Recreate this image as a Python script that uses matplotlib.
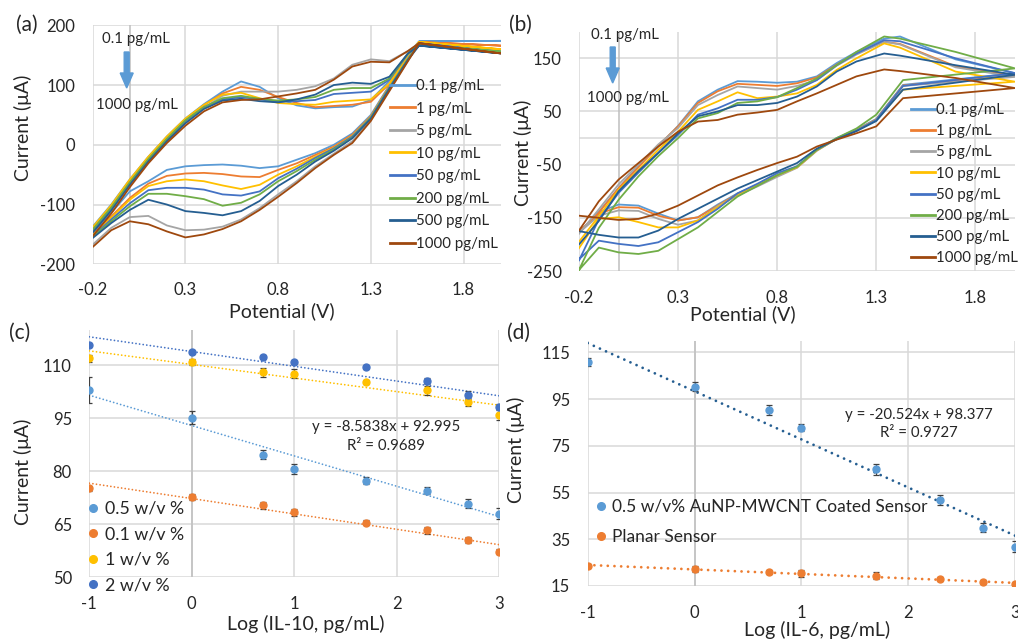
import matplotlib
matplotlib.use('Agg')
import matplotlib.pyplot as plt
from matplotlib.lines import Line2D
from matplotlib.patches import FancyArrow
import numpy as np

plt.rcParams['font.family'] = ['Lato', 'DejaVu Sans']
plt.rcParams['axes.unicode_minus'] = False

# ---------------- data ----------------
CONC_LABELS = ['0.1 pg/mL', '1 pg/mL', '5 pg/mL', '10 pg/mL',
               '50 pg/mL', '200 pg/mL', '500 pg/mL', '1000 pg/mL']
CV_COLORS = ['#5B9BD5', '#ED7D31', '#A5A5A5', '#FFC000',
             '#4472C4', '#70AD47', '#255E91', '#9E480E']

# Panel (a): forward (upper) and reverse (lower) potential grids, V
A_V_FWD = [-0.2, -0.1, 0.0, 0.1, 0.2, 0.3, 0.4, 0.5, 0.6, 0.7, 0.8, 0.9, 1.0,
           1.1, 1.2, 1.3, 1.4, 1.5, 1.56, 2.0]
A_V_REV = [2.0, 1.56, 1.5, 1.4, 1.3, 1.2, 1.1, 1.0, 0.9, 0.8, 0.7, 0.6, 0.5,
           0.4, 0.3, 0.2, 0.1, 0.0, -0.1, -0.2]
A_UP_0P1 = [-137, -100, -58, -20, 14, 44, 68, 89, 106, 97, 78, 66, 61, 63, 64, 75, 107, 152, 173, 174]
A_UP_1 = [-140, -103, -61, -22, 12, 42, 66, 86, 97, 92, 80, 70, 63, 65, 67, 72, 102, 150, 172, 166]
A_UP_5 = [-145, -108, -66, -27, 7, 38, 62, 82, 89, 89, 89, 92, 98, 111, 134, 143, 140, 157, 170, 158]
A_UP_10 = [-138, -101, -58, -20, 14, 44, 67, 84, 87, 78, 70, 68, 67, 72, 74, 76, 103, 150, 172, 160]
A_UP_50 = [-143, -106, -64, -25, 9, 40, 63, 76, 80, 76, 72, 73, 75, 85, 87, 89, 109, 152, 170, 155]
A_UP_200 = [-142, -105, -63, -24, 10, 41, 63, 78, 82, 77, 74, 76, 80, 92, 95, 95, 111, 153, 168, 156]
A_UP_500 = [-147, -110, -67, -28, 6, 36, 60, 74, 77, 73, 71, 76, 84, 100, 104, 102, 114, 153, 166, 153]
A_UP_1000 = [-153, -115, -71, -31, 3, 32, 56, 71, 75, 76, 81, 86, 92, 109, 131, 139, 138, 157, 170, 153]

A_DN_0P1 = [174, 173, 148, 100, 50, 19, 0, -14, -25, -36, -39, -35, -33, -34, -36, -42, -61, -78, -114, -148]
A_DN_1 = [166, 172, 146, 98, 48, 17, -3, -17, -31, -42, -54, -53, -49, -47, -48, -52, -65, -89, -120, -150]
A_DN_5 = [158, 170, 141, 92, 42, 6, -15, -36, -61, -83, -106, -125, -137, -142, -143, -135, -119, -121, -139, -167]
A_DN_10 = [160, 172, 145, 97, 47, 15, -5, -20, -36, -50, -67, -74, -68, -61, -58, -61, -69, -92, -122, -151]
A_DN_50 = [155, 170, 144, 96, 46, 14, -6, -22, -40, -56, -78, -85, -83, -75, -72, -72, -76, -98, -125, -153]
A_DN_200 = [156, 168, 143, 95, 45, 12, -8, -25, -44, -61, -83, -97, -102, -91, -86, -82, -82, -103, -128, -154]
A_DN_500 = [153, 166, 142, 94, 44, 11, -10, -28, -50, -69, -94, -111, -118, -114, -111, -100, -92, -109, -131, -156]
A_DN_1000 = [153, 170, 140, 90, 40, 3, -17, -39, -64, -87, -109, -128, -141, -150, -155, -145, -133, -128, -143, -171]

# Panel (b)
B_V_FWD = [-0.2, -0.1, 0.0, 0.1, 0.2, 0.3, 0.4, 0.5, 0.6, 0.7, 0.8, 0.9, 1.0,
           1.1, 1.2, 1.34, 1.42, 1.7, 2.0]
B_V_REV = [2.0, 1.435, 1.3, 1.2, 1.1, 1.0, 0.9, 0.8, 0.7, 0.6, 0.5, 0.4, 0.3,
           0.2, 0.1, 0.0, -0.1, -0.2]
B_UP_0P1 = [-178, -139, -94, -53, -16, 23, 69, 91, 107, 106, 104, 106, 116, 141, 162, 187, 191, 148, 122]
B_UP_1 = [-178, -140, -94, -55, -14, 22, 66, 88, 102, 100, 98, 103, 114, 138, 160, 181, 177, 135, 117]
B_UP_5 = [-180, -134, -87, -50, -12, 19, 62, 81, 97, 94, 91, 98, 109, 136, 157, 181, 176, 133, 115]
B_UP_10 = [-195, -147, -97, -60, -22, 12, 53, 69, 86, 75, 78, 84, 100, 128, 150, 178, 170, 125, 106]
B_UP_50 = [-230, -153, -103, -65, -28, 6, 44, 56, 72, 72, 77, 91, 109, 137, 159, 184, 182, 150, 122]
B_UP_200 = [-248, -169, -116, -72, -34, 0, 37, 47, 66, 69, 77, 94, 112, 137, 162, 191, 187, 162, 131]
B_UP_500 = [-200, -156, -100, -62, -28, 9, 41, 50, 62, 62, 66, 78, 97, 125, 144, 159, 155, 137, 119]
B_UP_1000 = [-174, -119, -78, -47, -16, 12, 31, 34, 44, 48, 53, 69, 84, 100, 116, 129, 126, 113, 94]

B_DN_0P1 = [122, 100, 36, 16, 0, -22, -54, -70, -88, -104, -125, -149, -155, -142, -127, -125, -139, -178]
B_DN_1 = [117, 99, 35, 15, -1, -23, -55, -71, -89, -105, -127, -149, -155, -146, -131, -130, -142, -176]
B_DN_5 = [115, 98, 34, 14, -1, -24, -56, -73, -91, -108, -128, -155, -163, -152, -137, -136, -146, -178]
B_DN_10 = [106, 91, 34, 14, -2, -23, -55, -70, -88, -106, -130, -155, -168, -168, -158, -149, -152, -207]
B_DN_50 = [122, 98, 34, 14, -2, -22, -53, -66, -86, -104, -133, -158, -177, -196, -203, -199, -193, -228]
B_DN_200 = [131, 109, 44, 18, 0, -22, -54, -70, -90, -110, -139, -168, -190, -212, -218, -215, -206, -248]
B_DN_500 = [119, 91, 32, 13, -2, -20, -47, -63, -79, -95, -114, -133, -152, -174, -187, -187, -182, -175]
B_DN_1000 = [94, 75, 22, 9, -3, -16, -35, -47, -60, -74, -89, -108, -127, -142, -152, -154, -150, -146]

# Panel (c): IL-10 calibration
C_LOGC = [-1, 0, 0.699, 1, 1.699, 2.301, 2.699, 3]
C_LABELS = ['0.5 w/v %', '0.1 w/v %', '1 w/v %', '2 w/v %']
C_COLORS = ['#5B9BD5', '#ED7D31', '#FFC000', '#4472C4']
C_I_05 = [102.9, 95.2, 84.7, 80.7, 77.3, 74.5, 70.8, 67.9]
C_I_01 = [75.1, 72.6, 70.3, 68.3, 65.4, 63.3, 60.4, 57.2]
C_I_1 = [112.0, 110.9, 108.0, 107.6, 105.2, 102.9, 99.5, 95.8]
C_I_2 = [115.7, 113.8, 112.4, 110.9, 109.5, 105.5, 101.7, 98.2]
C_E_05 = [3.7, 1.8, 1.2, 1.4, 1.0, 1.0, 1.2, 1.6]
C_E_01 = [0.8, 0.9, 1.0, 1.0, 0.8, 1.0, 0.8, 0.8]
C_E_1 = [1.0, 0.8, 1.3, 1.3, 0.6, 1.2, 1.0, 1.4]
C_E_2 = [0.6, 0.6, 0.6, 0.6, 0.5, 0.8, 1.0, 0.7]

# Panel (d): IL-6 calibration
D_LOGC = [-1, 0, 0.699, 1, 1.699, 2.301, 2.699, 3]
D_LABELS = ['0.5 w/v% AuNP-MWCNT Coated Sensor', 'Planar Sensor']
D_I_COATED = [111.0, 100.3, 90.3, 82.7, 64.9, 51.8, 40.0, 31.8]
D_I_PLANAR = [23.6, 22.1, 20.9, 20.4, 19.3, 17.9, 16.6, 15.9]
D_E_COATED = [1.8, 2.0, 2.0, 1.5, 2.3, 2.3, 2.0, 2.3]
D_E_PLANAR = [0.8, 1.3, 0.8, 1.5, 1.5, 0.8, 0.8, 0.8]

# ---------------- figure ----------------
W, H = 1018, 640
fig = plt.figure(figsize=(W / 100, H / 100), dpi=100, facecolor='white')

TXT = '#262626'
GRID = '#D9D9D9'
AX0 = '#BFBFBF'
TICK_FS = 12
LAB_FS = 14
PANEL_FS = 15


def px_axes(left, top, right, bottom):
    return fig.add_axes([left / W, 1 - bottom / H, (right - left) / W, (bottom - top) / H])


def ftext(x, y, s, **kw):
    kw.setdefault('ha', 'center')
    kw.setdefault('va', 'center')
    kw.setdefault('color', TXT)
    fig.text(x / W, 1 - y / H, s, **kw)


def style(ax, xlim, ylim, xticks, yticks, xfmt, yfmt, ypad, xpad):
    ax.set_xlim(xlim)
    ax.set_ylim(ylim)
    ax.set_xticks(xticks)
    ax.set_xticklabels([xfmt(v) for v in xticks])
    ax.set_yticks(yticks)
    ax.set_yticklabels([yfmt(v) for v in yticks])
    for s in ax.spines.values():
        s.set_visible(False)
    ax.tick_params(length=0, labelsize=TICK_FS, colors=TXT)
    ax.tick_params(axis='y', pad=ypad)
    ax.tick_params(axis='x', pad=xpad)
    ax.grid(True, color=GRID, lw=1.1)
    ax.set_axisbelow(True)
    ax.axvline(0, color=AX0, lw=1.1, zorder=0.8)


def arrow(x, y0, y1):
    fig.patches.append(FancyArrow(x / W, 1 - y0 / H, 0, -(y1 - y0) / H,
                                  width=5 / W, head_width=13 / W, head_length=15 / H,
                                  length_includes_head=True, color='#5B9BD5',
                                  transform=fig.transFigure, figure=fig))


# ---- (a) ----
axa = px_axes(92.7, 25.3, 500.7, 264.3)
style(axa, (-0.2, 2.0), (-200, 200), [-0.2, 0.3, 0.8, 1.3, 1.8],
      [-200, -100, 0, 100, 200], lambda v: f'{v:.1f}', lambda v: f'{v:d}', 12.5, 13)
a_up = [A_UP_0P1, A_UP_1, A_UP_5, A_UP_10, A_UP_50, A_UP_200, A_UP_500, A_UP_1000]
a_dn = [A_DN_0P1, A_DN_1, A_DN_5, A_DN_10, A_DN_50, A_DN_200, A_DN_500, A_DN_1000]
for up, dn, c in zip(a_up, a_dn, CV_COLORS):
    axa.plot(A_V_FWD + A_V_REV, up + dn, color=c, lw=1.3, solid_joinstyle='round')
handles = [Line2D([], [], color=c, lw=2) for c in CV_COLORS]
axa.legend(handles, CONC_LABELS, loc='upper left', bbox_to_anchor=(390 / W, 1 - 79 / H),
           bbox_transform=fig.transFigure, frameon=False, fontsize=10.8,
           handlelength=1.65, handletextpad=0.1, labelspacing=0.57,
           borderpad=0, borderaxespad=0, labelcolor=TXT)
ftext(135.5, 39, '0.1 pg/mL', fontsize=10.8)
ftext(137, 105, '1000 pg/mL', fontsize=10.8)
arrow(126.7, 52, 88)
ftext(26.5, 25, '(a)', fontsize=PANEL_FS)
ftext(23, 128, 'Current (μA)', fontsize=LAB_FS, rotation=90)
ftext(282, 311, 'Potential (V)', fontsize=LAB_FS)

# ---- (b) ----
axb = px_axes(579, 31.7, 1015, 271)
style(axb, (-0.2, 2.0), (-250, 200), [-0.2, 0.3, 0.8, 1.3, 1.8],
      [-250, -150, -50, 50, 150], lambda v: f'{v:.1f}', lambda v: f'{v:d}', 12.5, 14)
axb.axhline(0, color=GRID, lw=1.1, zorder=0.5)
b_up = [B_UP_0P1, B_UP_1, B_UP_5, B_UP_10, B_UP_50, B_UP_200, B_UP_500, B_UP_1000]
b_dn = [B_DN_0P1, B_DN_1, B_DN_5, B_DN_10, B_DN_50, B_DN_200, B_DN_500, B_DN_1000]
for up, dn, c in zip(b_up, b_dn, CV_COLORS):
    axb.plot(B_V_FWD + B_V_REV, up + dn, color=c, lw=1.3, solid_joinstyle='round')
axb.legend(handles, CONC_LABELS, loc='upper left', bbox_to_anchor=(911 / W, 1 - 103 / H),
           bbox_transform=fig.transFigure, frameon=False, fontsize=10.8,
           handlelength=1.6, handletextpad=0.1, labelspacing=0.48,
           borderpad=0, borderaxespad=0, labelcolor=TXT)
ftext(624.7, 35, '0.1 pg/mL', fontsize=10.8)
ftext(627.5, 98, '1000 pg/mL', fontsize=10.8)
arrow(612.7, 47, 83)
ftext(520, 25, '(b)', fontsize=PANEL_FS)
ftext(523, 153, 'Current (μA)', fontsize=LAB_FS, rotation=90)
ftext(743, 314, 'Potential (V)', fontsize=LAB_FS)

# ---- (c) ----
axc = px_axes(89.3, 330, 499, 577)
style(axc, (-1, 3), (50, 120), [-1, 0, 1, 2, 3], [50, 65, 80, 95, 110],
      lambda v: f'{v:d}', lambda v: f'{v:d}', 12.5, 14)
c_series = [(C_I_05, C_E_05), (C_I_01, C_E_01), (C_I_1, C_E_1), (C_I_2, C_E_2)]
xfit = np.array([-1.0, 3.0])
for (yv, ev), c in zip(c_series, C_COLORS):
    k, b0 = np.polyfit(C_LOGC, yv, 1)
    axc.plot(xfit, k * xfit + b0, color=c, lw=1.3, ls=(0, (0.01, 2.0)),
             dash_capstyle='round', zorder=2)
for (yv, ev), c in zip(c_series, C_COLORS):
    axc.errorbar(C_LOGC, yv, yerr=ev, fmt='o', ms=5, color=c, ecolor='#404040',
                 elinewidth=0.9, capsize=2, capthick=0.9, zorder=3)
c_handles = [Line2D([], [], ls='none', marker='o', ms=5.5, color=c) for c in C_COLORS]
axc.legend(c_handles, C_LABELS, loc='upper left', bbox_to_anchor=(86 / W, 1 - 501 / H),
           bbox_transform=fig.transFigure, frameon=False, fontsize=12.8,
           handlelength=0.8, handletextpad=0.25, labelspacing=0.53,
           borderpad=0, borderaxespad=0, labelcolor=TXT)
ftext(385.8, 427.3, 'y = -8.5838x + 92.995', fontsize=10.8)
ftext(386, 446, 'R² = 0.9689', fontsize=10.8)
ftext(20, 333, '(c)', fontsize=PANEL_FS)
ftext(23, 472, 'Current (μA)', fontsize=LAB_FS, rotation=90)
ftext(306, 624, 'Log (IL-10, pg/mL)', fontsize=LAB_FS)

# ---- (d) ----
axd = px_axes(587.7, 340.7, 1015, 586)
style(axd, (-1, 3), (15, 120), [-1, 0, 1, 2, 3], [15, 35, 55, 75, 95, 115],
      lambda v: f'{v:d}', lambda v: f'{v:d}', 12.5, 14)
d_series = [(D_I_COATED, D_E_COATED, '#5B9BD5', '#255E91'),
            (D_I_PLANAR, D_E_PLANAR, '#ED7D31', '#ED7D31')]
for yv, ev, c, tc in d_series:
    k, b0 = np.polyfit(D_LOGC, yv, 1)
    axd.plot(xfit, k * xfit + b0, color=tc, lw=2.0, ls=(0, (0.01, 2.4)),
             dash_capstyle='round', zorder=2)
for yv, ev, c, tc in d_series:
    axd.errorbar(D_LOGC, yv, yerr=ev, fmt='o', ms=5, color=c, ecolor='#404040',
                 elinewidth=0.9, capsize=2, capthick=0.9, zorder=3)
d_handles = [Line2D([], [], ls='none', marker='o', ms=5.5, color=c) for c in ['#5B9BD5', '#ED7D31']]
axd.legend(d_handles, D_LABELS, loc='upper left', bbox_to_anchor=(594 / W, 1 - 499 / H),
           bbox_transform=fig.transFigure, frameon=False, fontsize=12.5,
           handlelength=0.8, handletextpad=0.25, labelspacing=0.79,
           borderpad=0, borderaxespad=0, labelcolor=TXT)
ftext(919, 414.7, 'y = -20.524x + 98.377', fontsize=10.8)
ftext(919, 433.3, 'R² = 0.9727', fontsize=10.8)
ftext(518, 333, '(d)', fontsize=PANEL_FS)
ftext(516, 450, 'Current (μA)', fontsize=LAB_FS, rotation=90)
ftext(817, 630, 'Log (IL-6, pg/mL)', fontsize=LAB_FS)

fig.savefig('out.png', dpi=100, facecolor='white')
